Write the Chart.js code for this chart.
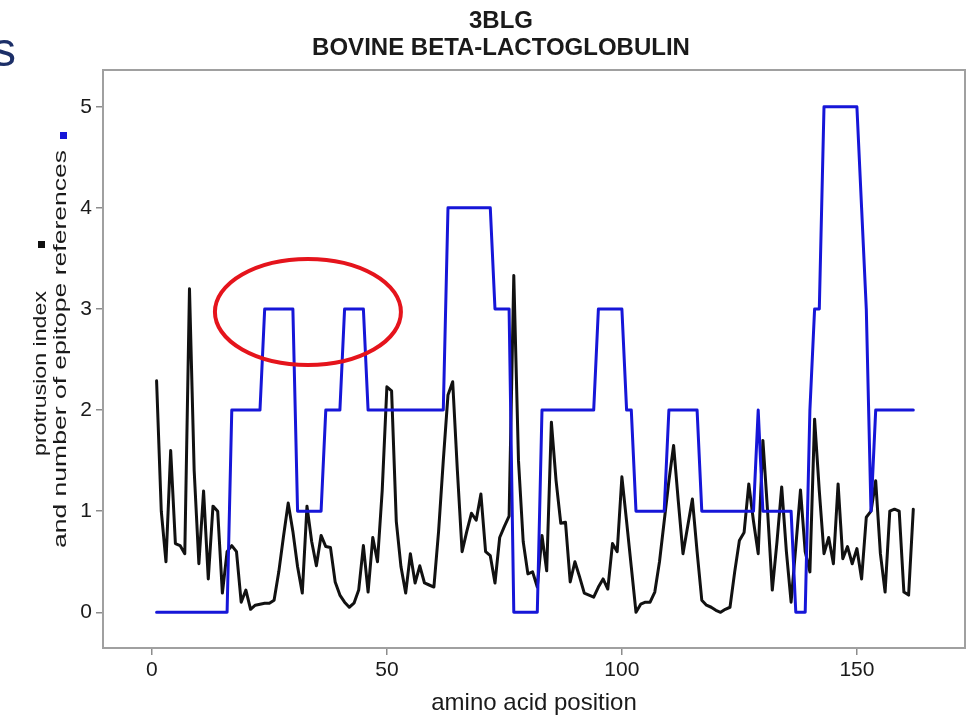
<!DOCTYPE html>
<html>
<head>
<meta charset="utf-8">
<script src="https://cdn.jsdelivr.net/npm/chart.js@4"></script>
<style>
  html, body { margin: 0; padding: 0; background: #fff; }
</style>
</head>
<body>
<canvas id="myChart" width="967" height="715"></canvas>
<script>
// residue numbers of bovine beta-lactoglobulin
const positions = [
  1, 2, 3, 4, 5, 6, 7, 8, 9, 10, 11, 12, 13, 14, 15, 16, 17, 18, 19, 20,
  21, 22, 23, 24, 25, 26, 27, 28, 29, 30, 31, 32, 33, 34, 35, 36, 37, 38, 39, 40,
  41, 42, 43, 44, 45, 46, 47, 48, 49, 50, 51, 52, 53, 54, 55, 56, 57, 58, 59, 60,
  61, 62, 63, 64, 65, 66, 67, 68, 69, 70, 71, 72, 73, 74, 75, 76, 77, 78, 79, 80,
  81, 82, 83, 84, 85, 86, 87, 88, 89, 90, 91, 92, 93, 94, 95, 96, 97, 98, 99, 100,
  101, 102, 103, 104, 105, 106, 107, 108, 109, 110, 111, 112, 113, 114, 115, 116, 117, 118, 119, 120,
  121, 122, 123, 124, 125, 126, 127, 128, 129, 130, 131, 132, 133, 134, 135, 136, 137, 138, 139, 140,
  141, 142, 143, 144, 145, 146, 147, 148, 149, 150, 151, 152, 153, 154, 155, 156, 157, 158, 159, 160,
  161, 162
];

// protrusion index (black line)
const protrusion = [
  2.29, 1.0, 0.5, 1.6, 0.68, 0.66, 0.58, 3.2, 1.4, 0.48,
  1.2, 0.33, 1.05, 1.0, 0.19, 0.6, 0.66, 0.6, 0.1, 0.22,
  0.03, 0.07, 0.08, 0.09, 0.09, 0.12, 0.4, 0.75, 1.08, 0.8,
  0.45, 0.19, 1.05, 0.7, 0.46, 0.76, 0.65, 0.64, 0.3, 0.17,
  0.1, 0.05, 0.09, 0.22, 0.66, 0.2, 0.74, 0.5, 1.2, 2.23,
  2.19, 0.9, 0.45, 0.19, 0.58, 0.29, 0.46, 0.29, 0.27, 0.25,
  0.8, 1.5, 2.15, 2.28, 1.4, 0.6, 0.8, 0.98, 0.91, 1.17,
  0.6, 0.56, 0.29, 0.74, 0.85, 0.95, 3.33, 1.5, 0.7, 0.38,
  0.4, 0.25, 0.76, 0.41, 1.88, 1.3, 0.88, 0.89, 0.3, 0.5,
  0.35, 0.19, 0.17, 0.15, 0.25, 0.33, 0.23, 0.68, 0.6, 1.34,
  0.9, 0.45, 0.0, 0.08, 0.1, 0.1, 0.2, 0.5, 0.9, 1.3,
  1.65, 1.1, 0.58, 0.85, 1.12, 0.6, 0.12, 0.07, 0.05, 0.02,
  0.0, 0.03, 0.05, 0.4, 0.71, 0.79, 1.27, 0.9, 0.58, 1.7,
  1.0, 0.22, 0.7, 1.24, 0.6, 0.1, 0.65, 1.21, 0.6, 0.4,
  1.91, 1.2, 0.58, 0.74, 0.48, 1.27, 0.53, 0.65, 0.48, 0.63,
  0.33, 0.94, 1.0, 1.3, 0.58, 0.2, 1.0, 1.02, 1.0, 0.2,
  0.17, 1.02
];

// number of epitope references (blue line)
const epitopes = [
  0, 0, 0, 0, 0, 0, 0, 0, 0, 0,
  0, 0, 0, 0, 0, 0, 2, 2, 2, 2,
  2, 2, 2, 3, 3, 3, 3, 3, 3, 3,
  1, 1, 1, 1, 1, 1, 2, 2, 2, 2,
  3, 3, 3, 3, 3, 2, 2, 2, 2, 2,
  2, 2, 2, 2, 2, 2, 2, 2, 2, 2,
  2, 2, 4, 4, 4, 4, 4, 4, 4, 4,
  4, 4, 3, 3, 3, 3, 0, 0, 0, 0,
  0, 0, 2, 2, 2, 2, 2, 2, 2, 2,
  2, 2, 2, 2, 3, 3, 3, 3, 3, 3,
  2, 2, 1, 1, 1, 1, 1, 1, 1, 2,
  2, 2, 2, 2, 2, 2, 1, 1, 1, 1,
  1, 1, 1, 1, 1, 1, 1, 1, 2, 1,
  1, 1, 1, 1, 1, 1, 0, 0, 0, 2,
  3, 3, 5, 5, 5, 5, 5, 5, 5, 5,
  4, 3, 1, 2, 2, 2, 2, 2, 2, 2,
  2, 2
];

const xTicks = [0, 50, 100, 150];
const yTicks = [0, 1, 2, 3, 4, 5];
const titleLines = ['3BLG', 'BOVINE BETA-LACTOGLOBULIN'];
const xTitle = 'amino acid position';
const yTitleLines = ['protrusion index', 'and number of epitope references'];

const BLUE = '#1616d8';
const BLACK = '#111111';

// frame, titles, y label with colour keys, the red highlight ring
const decor = {
  id: 'decor',
  afterDraw(chart) {
    const ctx = chart.ctx;
    const a = chart.chartArea;
    const xs = chart.scales.x, ys = chart.scales.y;
    ctx.save();

    // box round the plot
    ctx.strokeStyle = '#a0a0a0';
    ctx.lineWidth = 2;
    ctx.strokeRect(a.left, a.top, a.right - a.left, a.bottom - a.top);

    // titles
    ctx.fillStyle = '#1a1a1a';
    ctx.textAlign = 'center';
    ctx.textBaseline = 'middle';
    ctx.font = 'bold 24px "Liberation Sans", Arial, sans-serif';
    ctx.fillText(titleLines[0], 501, 21);
    ctx.fillText(titleLines[1], 501, 48);

    ctx.font = '24px "Liberation Sans", Arial, sans-serif';
    ctx.fillText(xTitle, (a.left + a.right) / 2, 703);

    // rotated y label, two lines, each with its colour key
    const rows = [
      { x: 41, from: 456, to: 291, sqx: 41, sqy: 244, color: BLACK },
      { x: 61, from: 548, to: 150, sqx: 63, sqy: 135, color: BLUE }
    ];
    ctx.font = '19px "Liberation Sans", Arial, sans-serif';
    rows.forEach((r, i) => {
      const w = ctx.measureText(yTitleLines[i]).width;
      ctx.save();
      ctx.translate(r.x, r.from);
      ctx.rotate(-Math.PI / 2);
      ctx.scale((r.from - r.to) / w, 1);
      ctx.textAlign = 'left';
      ctx.fillStyle = '#1a1a1a';
      ctx.fillText(yTitleLines[i], 0, 0);
      ctx.restore();
      ctx.fillStyle = r.color;
      ctx.fillRect(r.sqx - 3, r.sqy - 3, 7, 7);
    });

    // red ring round the two small peaks
    ctx.strokeStyle = '#e5141c';
    ctx.lineWidth = 4;
    ctx.beginPath();
    ctx.ellipse(xs.getPixelForValue(33.2), ys.getPixelForValue(2.97), 93, 53, 0, 0, Math.PI * 2);
    ctx.stroke();

    // cut-off letter of the slide heading
    ctx.fillStyle = '#1c2f68';
    ctx.textAlign = 'left';
    ctx.textBaseline = 'alphabetic';
    ctx.font = '48px "Liberation Sans", Arial, sans-serif';
    ctx.fillText('s', -8, 66);

    ctx.restore();
  }
};

const ctx = document.getElementById('myChart');

new Chart(ctx, {
  type: 'line',
  data: {
    datasets: [
      {
        label: 'number of epitope references',
        data: positions.map((p, i) => ({ x: p, y: epitopes[i] })),
        borderColor: BLUE,
        borderWidth: 3,
        pointRadius: 0,
        order: 0
      },
      {
        label: 'protrusion index',
        data: positions.map((p, i) => ({ x: p, y: protrusion[i] })),
        borderColor: BLACK,
        borderWidth: 3,
        pointRadius: 0,
        order: 1
      }
    ]
  },
  options: {
    responsive: false,
    animation: false,
    layout: { padding: { left: 0, right: 2, top: 70, bottom: 0 } },
    elements: { line: { tension: 0, borderJoinStyle: 'round', borderCapStyle: 'round' } },
    plugins: {
      legend: { display: false },
      tooltip: { enabled: false },
      title: { display: false }
    },
    scales: {
      x: {
        type: 'linear',
        min: -10.4,
        max: 173,
        afterBuildTicks: s => { s.ticks = xTicks.map(v => ({ value: v })); },
        afterFit: s => { s.height = 67; },
        border: { display: false },
        grid: { drawOnChartArea: false, drawTicks: true, tickLength: 7, color: '#8c8c8c', lineWidth: 1.5 },
        ticks: { font: { family: 'Liberation Sans', size: 21 }, color: '#1a1a1a', padding: 3, maxRotation: 0 }
      },
      y: {
        type: 'linear',
        min: -0.353,
        max: 5.363,
        afterBuildTicks: s => { s.ticks = yTicks.map(v => ({ value: v })); },
        afterFit: s => { s.width = 103; },
        border: { display: false },
        grid: { drawOnChartArea: false, drawTicks: true, tickLength: 7, color: '#8c8c8c', lineWidth: 1.5 },
        ticks: { font: { family: 'Liberation Sans', size: 21 }, color: '#1a1a1a', padding: 4 }
      }
    }
  },
  plugins: [decor]
});
</script>
</body>
</html>
